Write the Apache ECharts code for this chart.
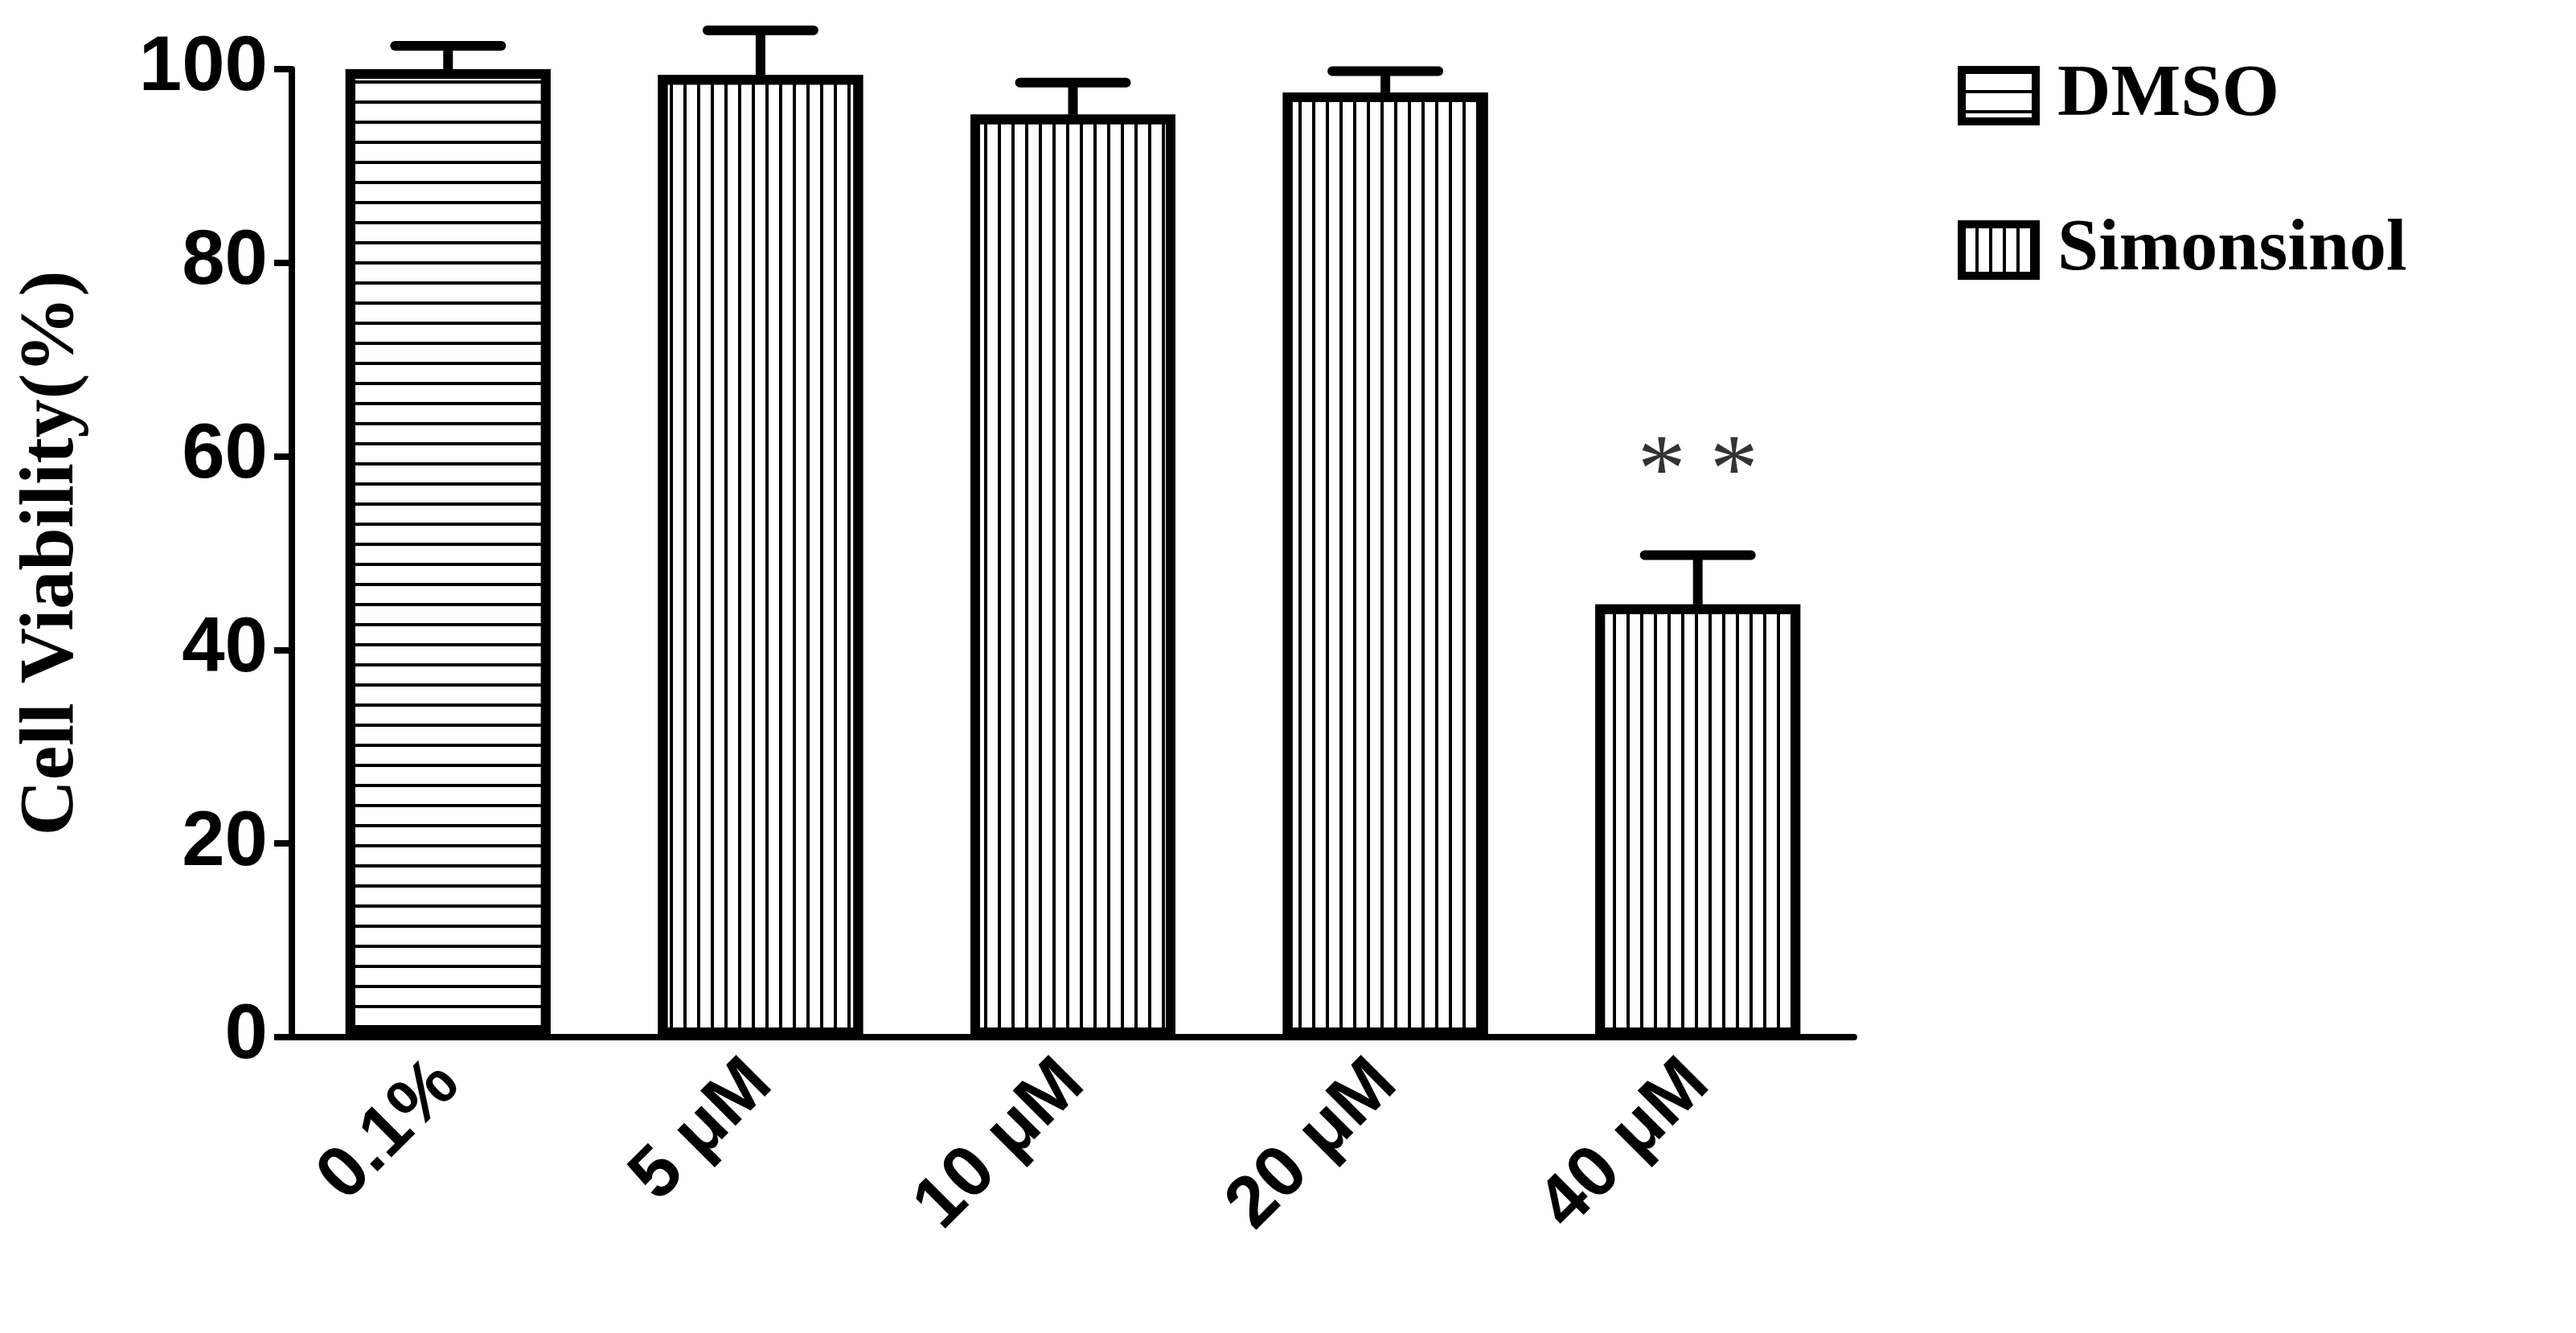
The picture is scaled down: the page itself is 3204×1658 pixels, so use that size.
<!DOCTYPE html>
<html><head><meta charset="utf-8">
<script src="https://cdn.jsdelivr.net/npm/echarts@6/dist/echarts.min.js"></script>
<style>html,body{margin:0;padding:0;background:#fff}#c{width:3204px;height:1658px}</style>
</head><body><div id="c"></div>
<script>
const categories = ['0.1%', '5 μM', '10 μM', '20 μM', '40 μM'];
const dmso = [100, '-', '-', '-', '-'];
const simonsinol = ['-', 99.4, 95.3, 97.6, 44.7];
const means = [100, 99.4, 95.3, 97.6, 44.7];
const errTops = [102.4, 104, 98.6, 99.8, 49.8];
const yTicks = [0, 20, 40, 60, 80, 100];
const sigMarks = [['40 μM', 58, '* *']];

const chart = echarts.init(document.getElementById('c'));
const hDecal = {symbol:'rect', color:'#000', dashArrayX:[1,0], dashArrayY:[4,21], rotation:0, symbolSize:1};
const vDecal = {symbol:'rect', color:'#000', dashArrayX:[4,13], dashArrayY:[1,0], rotation:0, symbolSize:1};
chart.setOption({
  animation:false,
  aria:{enabled:true, decal:{show:true}},
  grid:{left:363, right:898, top:86, bottom:368},
  legend:{
    left:2430, top:68, orient:'vertical', itemWidth:92, itemHeight:64, itemGap:100,
    icon:'rect',
    itemStyle:{borderColor:'#000', borderWidth:10},
    textStyle:{fontFamily:'Liberation Serif', fontWeight:'bold', fontSize:92, color:'#000', padding:[0,0,0,22]},
    data:['DMSO','Simonsinol']
  },
  xAxis:{
    type:'category', data:categories,
    axisLine:{lineStyle:{color:'#000', width:8}},
    axisTick:{alignWithLabel:true, length:22, lineStyle:{width:8, color:'#000'}},
    axisLabel:{rotate:45, margin:44, fontFamily:'Liberation Sans', fontWeight:'bold', fontSize:90, color:'#000'}
  },
  yAxis:{
    type:'value', min:0, max:100, interval:20,
    name:'Cell Viability(%)', nameLocation:'middle', nameGap:250, nameRotate:90,
    nameTextStyle:{fontFamily:'Liberation Serif', fontWeight:'bold', fontSize:96, color:'#000'},
    splitLine:{show:false},
    axisLine:{show:true, lineStyle:{color:'#000', width:8}},
    axisTick:{show:true, length:22, lineStyle:{width:8, color:'#000'}},
    axisLabel:{margin:30, fontFamily:'Liberation Sans', fontWeight:'bold', fontSize:96, color:'#000',
      formatter:v=>yTicks.includes(v)?String(v):''}
  },
  series:[
    {name:'DMSO', type:'bar', stack:'a', data:dmso, barWidth:255,
      itemStyle:{color:'#fff', borderColor:'#000', borderWidth:12, decal:hDecal}},
    {name:'Simonsinol', type:'bar', stack:'a', data:simonsinol, barWidth:255,
      itemStyle:{color:'#fff', borderColor:'#000', borderWidth:12, decal:vDecal}},
    {name:'sig', type:'scatter', symbolSize:0, silent:true,
      data:sigMarks.map(s=>[s[0], s[1]]),
      label:{show:true, position:'inside', formatter:p=>sigMarks[p.dataIndex][2],
        fontFamily:'Liberation Serif', fontSize:120, color:'#000'}},
    {name:'err', type:'custom', z:1,
      data:means.map((m,i)=>[i, m, errTops[i]]),
      renderItem:(params, api)=>{
        const base = api.coord([api.value(0), api.value(1)]);
        const top = api.coord([api.value(0), api.value(2)]);
        const hw = 66;
        return {type:'group', children:[
          {type:'line', shape:{x1:base[0], y1:base[1], x2:top[0], y2:top[1]}, style:{stroke:'#000', lineWidth:12}},
          {type:'line', shape:{x1:top[0]-hw, y1:top[1], x2:top[0]+hw, y2:top[1]}, style:{stroke:'#000', lineWidth:12, lineCap:'round'}}
        ]};
      }
    }
  ]
});
</script></body></html>
